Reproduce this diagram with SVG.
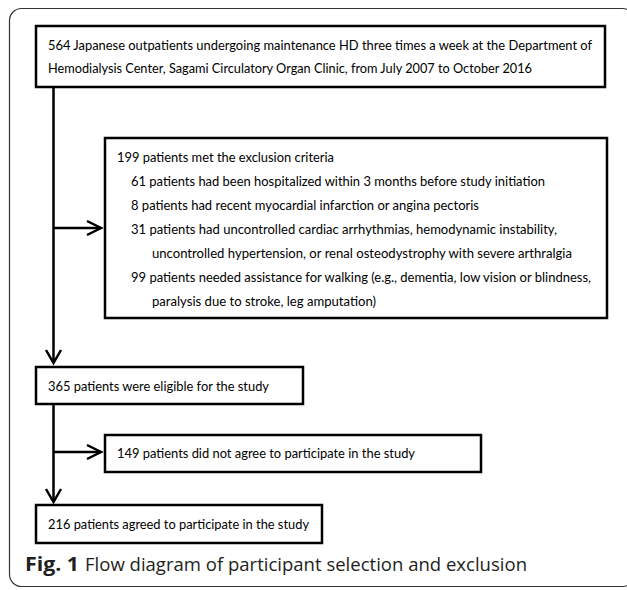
<svg xmlns="http://www.w3.org/2000/svg" width="627" height="590" viewBox="0 0 627 590">
  <style>
    .box { fill: #ffffff; stroke: #000000; stroke-width: 2.5; }
    .t { font-family: Lato, "Open Sans", "Liberation Sans", sans-serif; font-size: 13.5px; fill: #000000; }
    .cap { font-family: "Open Sans", "Noto Sans", "Liberation Sans", sans-serif; font-size: 19px; fill: #231f20; }
    .capb { font-weight: bold; }
    .ln { fill: none; stroke: #000000; stroke-width: 2.5; }
    .ah { fill: none; stroke: #000000; stroke-width: 2.5; stroke-linejoin: miter; }
  </style>
  <rect x="0" y="0" width="627" height="590" fill="#ffffff"/>
  <rect id="frame" x="9.5" y="8.5" width="625" height="578" rx="12" ry="12" fill="none" stroke="#333333" stroke-width="1.2"/>

  <g id="connectors">
    <line class="ln" x1="53.5" y1="87" x2="53.5" y2="363"/>
    <polyline class="ah" points="46,350 53.5,363 61,350"/>
    <line class="ln" x1="53.5" y1="228" x2="101" y2="228"/>
    <polyline class="ah" points="87,221 101,228 87,235"/>
    <line class="ln" x1="53.5" y1="404" x2="53.5" y2="502"/>
    <polyline class="ah" points="46,489 53.5,502 61,489"/>
    <line class="ln" x1="53.5" y1="452" x2="101" y2="452"/>
    <polyline class="ah" points="87,445 101,452 87,459"/>
  </g>

  <g id="node-start">
    <rect class="box" x="36" y="26" width="569" height="61"/>
    <text class="t" x="48" y="50" textLength="544" lengthAdjust="spacingAndGlyphs">564 Japanese outpatients undergoing maintenance HD three times a week at the Department of</text>
    <text class="t" x="48" y="73" textLength="484" lengthAdjust="spacingAndGlyphs">Hemodialysis Center, Sagami Circulatory Organ Clinic, from July 2007 to October 2016</text>
  </g>

  <g id="node-excluded">
    <rect class="box" x="105" y="138" width="502" height="180"/>
    <text class="t" x="117" y="162" textLength="217" lengthAdjust="spacingAndGlyphs">199 patients met the exclusion criteria</text>
    <text class="t" x="131" y="186" textLength="414" lengthAdjust="spacingAndGlyphs">61 patients had been hospitalized within 3 months before study initiation</text>
    <text class="t" x="131" y="210" textLength="348" lengthAdjust="spacingAndGlyphs">8 patients had recent myocardial infarction or angina pectoris</text>
    <text class="t" x="131" y="234" textLength="426" lengthAdjust="spacingAndGlyphs">31 patients had uncontrolled cardiac arrhythmias, hemodynamic instability,</text>
    <text class="t" x="152" y="258" textLength="420" lengthAdjust="spacingAndGlyphs">uncontrolled hypertension, or renal osteodystrophy with severe arthralgia</text>
    <text class="t" x="131" y="282" textLength="460" lengthAdjust="spacingAndGlyphs">99 patients needed assistance for walking (e.g., dementia, low vision or blindness,</text>
    <text class="t" x="152" y="306" textLength="224" lengthAdjust="spacingAndGlyphs">paralysis due to stroke, leg amputation)</text>
  </g>

  <g id="node-eligible">
    <rect class="box" x="36" y="367" width="267" height="37"/>
    <text class="t" x="48" y="391" textLength="221" lengthAdjust="spacingAndGlyphs">365 patients were eligible for the study</text>
  </g>

  <g id="node-declined">
    <rect class="box" x="105" y="435" width="376" height="37"/>
    <text class="t" x="117" y="458" textLength="298" lengthAdjust="spacingAndGlyphs">149 patients did not agree to participate in the study</text>
  </g>

  <g id="node-agreed">
    <rect class="box" x="36" y="505" width="286" height="38"/>
    <text class="t" x="48" y="529" textLength="261" lengthAdjust="spacingAndGlyphs">216 patients agreed to participate in the study</text>
  </g>

  <g id="caption">
    <text class="cap capb" x="25" y="571" textLength="54" lengthAdjust="spacingAndGlyphs">Fig. 1</text>
    <text class="cap" x="85" y="571" textLength="442" lengthAdjust="spacingAndGlyphs">Flow diagram of participant selection and exclusion</text>
  </g>
</svg>
